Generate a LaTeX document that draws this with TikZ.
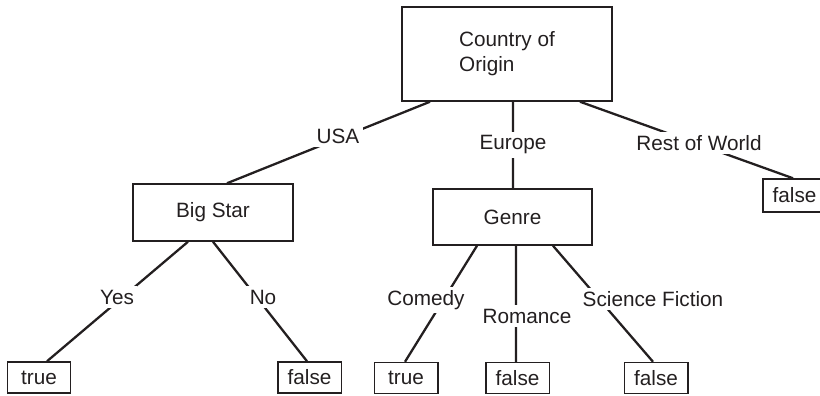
\documentclass[tikz,border=0pt]{standalone}
\usepackage{fontspec}
\setmainfont{Liberation Sans}
\usetikzlibrary{calc}
\definecolor{ink}{HTML}{231F20}

\begin{document}
\begin{tikzpicture}[x=0.02cm, y=-0.02cm,
  attr/.style={draw=ink, line width=0.85pt, inner sep=0pt, text=ink,
    font=\fontsize{11.8}{14.2}\selectfont},
  leaf/.style={attr, minimum width=1.27cm, minimum height=0.62cm},
  branch/.style={draw=ink, line width=1.3pt},
  choice/.style={fill=white, inner sep=2pt, text=ink,
    font=\fontsize{11.8}{14.2}\selectfont}
]
\useasboundingbox (0,0) rectangle (820,395);

%% --- attribute tests ---
\node[attr, minimum width=4.2cm, minimum height=1.88cm, align=left]
  (origin) at (507,54) {Country of\\Origin};
\node[attr, minimum width=3.2cm, minimum height=1.14cm]
  (bigstar) at (213,212.5) {Big Star};
\node[attr, minimum width=3.18cm, minimum height=1.12cm]
  (genre) at (512.5,217) {Genre};

%% --- leaves ---
\node[leaf] (yesTrue)      at (39,377.5)  {true};
\node[leaf] (noFalse)      at (309.5,377.5) {false};
\node[leaf] (comedyTrue)   at (406,378)   {true};
\node[leaf] (romanceFalse) at (517.5,378) {false};
\node[leaf] (scifiFalse)   at (656,378)   {false};
\node[leaf, minimum height=0.66cm] (restFalse) at (794.5,195.5) {false};

%% --- branches from country of origin ---
\draw[branch] ($(origin.south)+(-77,0)$) -- ($(bigstar.north)+(14,0)$);
\draw[branch] ($(origin.south)+(6,0)$)   -- ($(genre.north)+(0.5,0)$);
\draw[branch] ($(origin.south)+(73,0)$)  -- ($(restFalse.north)+(-1.5,0)$);

%% --- branches from big star ---
\draw[branch] ($(bigstar.south)+(-25,0)$) -- ($(yesTrue.north)+(8,0)$);
\draw[branch] (bigstar.south) -- ($(noFalse.north)+(-2.5,0)$);

%% --- branches from genre ---
\draw[branch] ($(genre.south)+(-35.5,0)$) -- ($(comedyTrue.north)+(-1,0)$);
\draw[branch] ($(genre.south)+(3.5,0)$)   -- ($(romanceFalse.north)+(-1.5,0)$);
\draw[branch] ($(genre.south)+(40.5,0)$)  -- ($(scifiFalse.north)+(-3,0)$);

%% --- branch labels ---
\node[choice] (usa)     at (338,136) {USA};
\node[choice] (europe)  at (513,145) {Europe};
\node[choice] (rest)    at (699,143) {Rest of World};
\node[choice] (yes)     at (117,297) {Yes};
\node[choice] (no)      at (263,297) {No};
\node[choice] (comedy)  at (426,300) {Comedy};
\node[choice] (romance) at (527,316) {Romance};
\node[choice] (scifi)   at (653,299) {Science Fiction};

\end{tikzpicture}
\end{document}
